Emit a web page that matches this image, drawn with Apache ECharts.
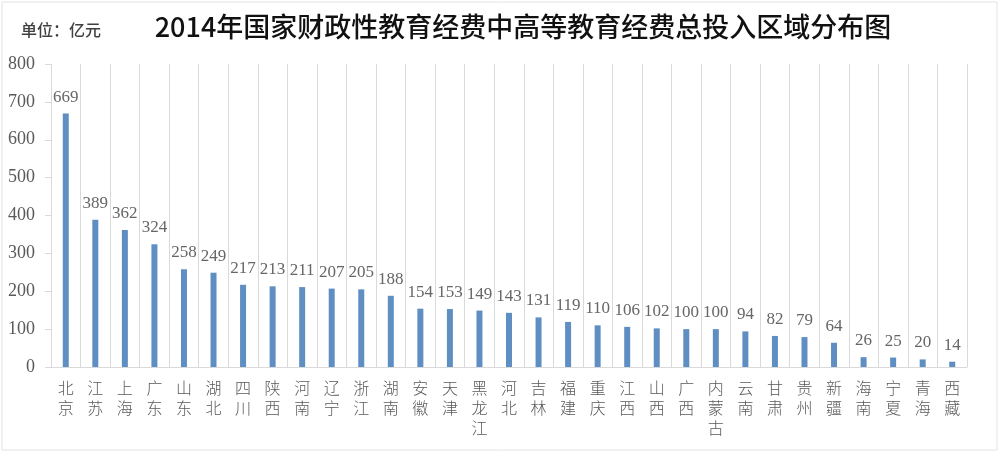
<!DOCTYPE html>
<html><head><meta charset="utf-8">
<script src="https://cdn.jsdelivr.net/npm/echarts@6/dist/echarts.min.js"></script>
<style>html,body{margin:0;padding:0;background:#fff}#c{width:1000px;height:453px}</style>
</head><body><div id="c"></div>
<script>
const titleText = '2014年国家财政性教育经费中高等教育经费总投入区域分布图';
const unitText = '单位：亿元';
const provinces = ['北京','江苏','上海','广东','山东','湖北','四川','陕西','河南','辽宁','浙江','湖南','安徽','天津','黑龙江','河北','吉林','福建','重庆','江西','山西','广西','内蒙古','云南','甘肃','贵州','新疆','海南','宁夏','青海','西藏'];
const funding = [669,389,362,324,258,249,217,213,211,207,205,188,154,153,149,143,131,119,110,106,102,100,100,94,82,79,64,26,25,20,14];
const yTicks = [0,100,200,300,400,500,600,700,800];

const chart = echarts.init(document.getElementById('c'));
chart.setOption({
  backgroundColor:'#fff',
  animation:false,
  title:[{
    text:titleText, left:518, top:8, textAlign:'center',
    textStyle:{fontFamily:'"Noto Sans CJK SC"', fontSize:27, fontWeight:500, color:'#111'}
  },{
    text:unitText, left:16, top:17,
    textStyle:{fontFamily:'"Noto Sans CJK SC"', fontSize:16, fontWeight:500, color:'#404040'}
  }],
  graphic:[{type:'rect', shape:{x:2,y:2,width:995,height:448}, style:{fill:'none', stroke:'#e3e3e3', lineWidth:1}, silent:true}],
  grid:{left:51, right:33, top:64, bottom:86},
  xAxis:{
    type:'category', data:provinces,
    axisLine:{show:true, lineStyle:{color:'#d9d9d9'}},
    axisTick:{show:false},
    splitLine:{show:true, lineStyle:{color:'#d9d9d9', width:1}},
    axisLabel:{interval:0, margin:11, color:'#595959', fontSize:16, lineHeight:20,
      fontFamily:'"Noto Sans CJK SC"', fontWeight:300,
      formatter:v=>v.split('').join('\n')}
  },
  yAxis:{
    type:'value', min:yTicks[0], max:yTicks[yTicks.length-1], interval:100,
    axisLine:{show:false},
    axisTick:{show:true, length:6, lineStyle:{color:'#d9d9d9'}},
    splitLine:{show:false},
    axisLabel:{margin:16, color:'#595959', fontSize:18, fontFamily:'"Liberation Serif"'}
  },
  series:[{
    type:'bar', data:funding, barWidth:6,
    itemStyle:{color:'#5f8fc2'},
    label:{show:true, position:'top', distance:8, color:'#666', fontSize:17, fontFamily:'"Liberation Serif"'}
  }]
});
</script></body></html>
